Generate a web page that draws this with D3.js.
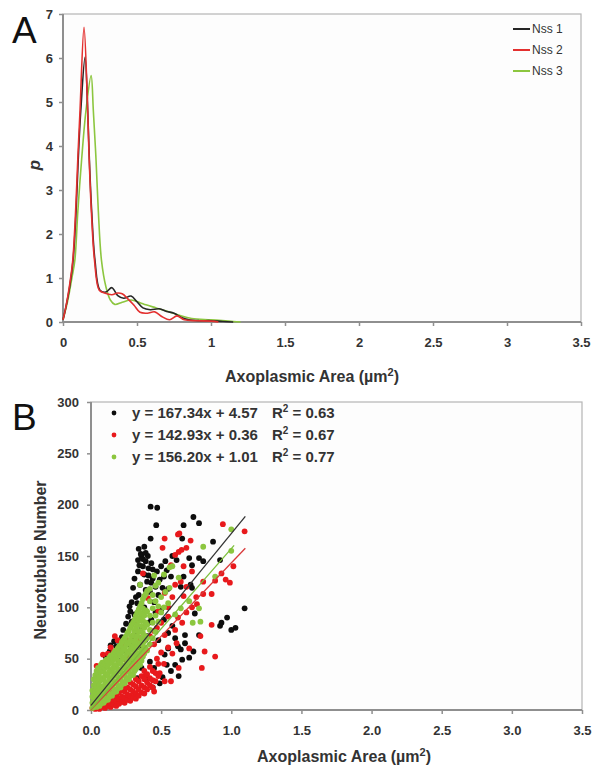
<!DOCTYPE html>
<html>
<head>
<meta charset="utf-8">
<script src="https://cdn.jsdelivr.net/npm/d3@7"></script>
<style>
  body { margin: 0; background: #fff; }
  svg { display: block; font-family: "Liberation Sans", Arial, sans-serif; }
</style>
</head>
<body>
<script>
// ---- panel A: probability density of axoplasmic area ----
const seriesNames = ["Nss 1", "Nss 2", "Nss 3"];
const lineColors = ["#262626", "#e3302f", "#8cc63f"];
const dotColors = ["#0d0d0d", "#e8191c", "#8cc63f"];
const fitColors = ["#333333", "#d9393a", "#7cbf3a"];

const densX1 = [0, 0.02, 0.045, 0.068, 0.088, 0.103, 0.12, 0.149, 0.167, 0.178, 0.194, 0.216, 0.25, 0.29, 0.33, 0.37, 0.41, 0.46, 0.5, 0.54, 0.59, 0.65, 0.7, 0.75, 0.8, 0.85, 0.92, 1.0, 1.08, 1.15];
const densP1 = [0.05, 0.35, 0.8, 1.4, 2.5, 3.7, 4.8, 6.02, 4.8, 3.7, 2.5, 1.4, 0.72, 0.68, 0.78, 0.6, 0.54, 0.59, 0.46, 0.32, 0.28, 0.3, 0.24, 0.2, 0.1, 0.05, 0.03, 0.03, 0.01, 0];

const densX2 = [0, 0.02, 0.045, 0.066, 0.085, 0.1, 0.115, 0.142, 0.165, 0.177, 0.192, 0.213, 0.245, 0.28, 0.33, 0.37, 0.4, 0.44, 0.48, 0.52, 0.57, 0.62, 0.67, 0.72, 0.77, 0.82, 0.9, 1.0, 1.05];
const densP2 = [0.05, 0.35, 0.85, 1.4, 2.5, 3.7, 4.8, 6.7, 5.0, 3.7, 2.5, 1.4, 0.72, 0.66, 0.62, 0.66, 0.64, 0.52, 0.38, 0.22, 0.2, 0.23, 0.12, 0.05, 0.14, 0.05, 0.03, 0.02, 0];

const densX3 = [0, 0.03, 0.06, 0.08, 0.1, 0.126, 0.155, 0.19, 0.205, 0.223, 0.239, 0.26, 0.29, 0.32, 0.35, 0.4, 0.46, 0.52, 0.56, 0.63, 0.7, 0.78, 0.87, 1.0, 1.12, 1.2];
const densP3 = [0.05, 0.45, 1.0, 1.4, 2.5, 3.7, 4.8, 5.6, 4.8, 3.7, 2.5, 1.4, 0.8, 0.5, 0.4, 0.45, 0.5, 0.44, 0.39, 0.32, 0.25, 0.16, 0.08, 0.05, 0.02, 0];

const xTicksA = [0, 0.5, 1, 1.5, 2, 2.5, 3, 3.5];
const yTicksA = [0, 1, 2, 3, 4, 5, 6, 7];

// ---- panel B: neurotubule number vs axoplasmic area ----
const nss1Points = [
  [0.425,198],[0.472,197],[0.465,180],[0.425,167],[0.34,157],[0.38,159],[0.335,146],[0.405,150],[0.335,135],[0.30,119],
  [0.275,101],[0.265,91],[0.31,93],[0.133,57],[0.18,54],[0.12,47],[0.36,80],[0.42,47],[0.45,41],[0.525,54],[0.49,26],[0.55,60],
  [0.73,188],[0.77,182],[0.66,180],[0.65,167],[0.87,164],[0.61,146],[0.70,148],[0.77,148],[0.80,145],[0.72,141],[0.92,146],
  [0.66,130],[0.71,122],[0.64,120],[0.72,119],[0.74,94],[1.095,99],[0.97,90],[0.93,85],[0.92,82],[1.0,78],[1.03,80],[0.67,73],
  [0.77,73],[0.67,65],[0.73,57],[0.64,59],[0.70,51],[0.60,44],[0.65,49],[0.625,33],
  [0.36,150],[0.39,145],[0.37,140],[0.41,138],[0.43,143],[0.38,132],[0.44,128],[0.47,135],[0.50,140],[0.52,130],[0.46,120],
  [0.40,125],[0.35,122],[0.42,115],[0.48,112],[0.55,118],[0.57,130],[0.53,145],[0.58,150],[0.32,110],[0.29,105],[0.31,128],
  [0.45,105],[0.38,100],[0.50,98],[0.355,152],[0.37,147],[0.39,153],[0.345,141],[0.41,131],[0.44,137],[0.49,127],[0.54,136],
  [0.33,104],[0.28,96],[0.25,84],[0.23,78],[0.29,86],[0.34,112],[0.39,117],[0.43,124],[0.51,119],
  [0.15,50],[0.18,62],[0.21,65],[0.235,58],[0.20,48],[0.255,55],[0.27,64],[0.30,71],[0.33,76],[0.28,47],[0.32,53],[0.35,61],
  [0.385,68],[0.40,72],[0.36,41],[0.405,31],[0.44,22],[0.33,31],[0.14,63],[0.165,67],[0.19,59],[0.22,71],[0.105,52],
  [0.43,88],[0.46,95],[0.41,85],[0.52,88],[0.55,75],[0.48,68],[0.58,82],[0.60,70],[0.62,62],[0.54,44],[0.57,38],[0.51,32]
];
const nss2Points = [
  [0.94,181],[1.095,174],[0.62,171],[0.71,165],[0.68,158],[0.625,154],[1.015,140],[0.96,127],[0.99,124],[0.885,126],[0.86,113],
  [0.80,113],[0.93,133],[0.86,83],[0.78,72],[0.885,52],[0.81,57],[0.79,41],[0.625,41],[0.60,78],[0.61,65],[0.70,60],[0.755,103],
  [0.66,111],[0.80,125],[0.525,167],[0.51,158],[0.57,141],[0.60,151],[0.17,72],[0.32,85],[0.45,77],[0.525,73],[0.335,54],
  [0.39,34],[0.49,36],[0.57,28],[0.525,28],[0.45,18],[0.31,13],[0.23,12],[0.085,54],[0.04,43],[0.215,64],[0.26,68],[0.45,64],
  [0.55,91],[0.48,96],[0.525,114],[0.60,122],[0.405,109],[0.37,133],[0.63,172],[0.646,156],
  [0.47,50],[0.50,56],[0.52,45],[0.55,61],[0.58,55],[0.62,90],[0.65,85],[0.68,95],[0.72,100],[0.75,110],[0.68,120],
  [0.72,135],[0.66,140],[0.64,125],[0.58,110],[0.55,100],[0.50,85],[0.47,80],[0.42,72],[0.38,60],[0.35,70],
  [0.12,55],[0.14,61],[0.16,57],[0.19,68],[0.22,61],[0.25,49],[0.28,53],[0.10,45],[0.13,49],[0.175,51],[0.2,57],[0.235,66],
  [0.01,2],[0.02,5],[0.03,1],[0.03,4],[0.05,2],[0.06,4],[0.06,1],[0.08,3],[0.08,6],[0.10,2],[0.10,5],[0.12,4],[0.12,8],
  [0.14,3],[0.14,7],[0.14,11],[0.16,5],[0.16,10],[0.18,4],[0.18,9],[0.18,14],[0.20,6],[0.20,11],[0.20,17],[0.22,8],[0.22,13],
  [0.22,19],[0.24,7],[0.24,12],[0.24,18],[0.24,23],[0.26,10],[0.26,15],[0.26,22],[0.28,9],[0.28,14],[0.28,20],[0.28,27],
  [0.30,12],[0.30,18],[0.30,25],[0.32,11],[0.32,16],[0.32,23],[0.32,30],[0.34,14],[0.34,20],[0.34,28],[0.36,17],[0.36,24],
  [0.36,33],[0.38,16],[0.38,22],[0.38,30],[0.38,38],[0.40,20],[0.40,27],[0.40,35],[0.42,24],[0.42,31],[0.42,42],[0.44,22],
  [0.44,29],[0.44,38],[0.46,28],[0.46,36],[0.48,33],[0.48,45],[0.07,9],[0.09,8],[0.11,13],[0.13,15],[0.15,17],[0.17,19]
];
const nss3Points = [
  [0.01,2],[0.01,7],[0.01,13],[0.01,19],[0.02,3],[0.02,9],[0.02,16],[0.02,24],[0.02,30],[0.03,4],[0.03,11],[0.03,18],[0.03,26],
  [0.03,34],[0.04,3],[0.04,8],[0.04,15],[0.04,22],[0.04,30],[0.04,38],[0.05,5],[0.05,12],[0.05,19],[0.05,27],[0.05,35],[0.05,41],
  [0.06,4],[0.06,10],[0.06,17],[0.06,24],[0.06,32],[0.06,40],[0.07,6],[0.07,13],[0.07,21],[0.07,29],[0.07,37],[0.07,44],
  [0.08,8],[0.08,15],[0.08,23],[0.08,31],[0.08,39],[0.08,46],[0.09,7],[0.09,14],[0.09,22],[0.09,30],[0.09,38],[0.09,44],
  [0.10,9],[0.10,17],[0.10,25],[0.10,33],[0.10,41],[0.10,47],[0.11,11],[0.11,19],[0.11,27],[0.11,35],[0.11,43],[0.11,49],
  [0.12,10],[0.12,18],[0.12,26],[0.12,34],[0.12,42],[0.12,48],[0.13,13],[0.13,21],[0.13,29],[0.13,37],[0.13,45],[0.13,51],
  [0.14,15],[0.14,23],[0.14,31],[0.14,39],[0.14,47],[0.14,53],[0.15,14],[0.15,22],[0.15,30],[0.15,38],[0.15,46],[0.15,52],
  [0.16,17],[0.16,25],[0.16,33],[0.16,41],[0.16,49],[0.16,55],[0.17,19],[0.17,27],[0.17,35],[0.17,43],[0.17,51],[0.17,57],
  [0.18,18],[0.18,26],[0.18,34],[0.18,42],[0.18,50],[0.18,58],[0.19,21],[0.19,29],[0.19,37],[0.19,45],[0.19,53],[0.19,60],
  [0.20,23],[0.20,31],[0.20,39],[0.20,47],[0.20,55],[0.20,62],[0.21,22],[0.21,30],[0.21,38],[0.21,46],[0.21,54],[0.21,63],
  [0.22,25],[0.22,33],[0.22,41],[0.22,49],[0.22,57],[0.22,66],[0.23,27],[0.23,35],[0.23,43],[0.23,51],[0.23,59],[0.23,68],
  [0.24,26],[0.24,34],[0.24,42],[0.24,51],[0.24,60],[0.24,70],[0.25,29],[0.25,37],[0.25,45],[0.25,54],[0.25,63],[0.25,72],
  [0.26,31],[0.26,39],[0.26,48],[0.26,57],[0.26,66],[0.26,75],[0.27,30],[0.27,38],[0.27,47],[0.27,56],[0.27,65],[0.27,77],
  [0.28,33],[0.28,41],[0.28,50],[0.28,59],[0.28,68],[0.28,80],[0.29,35],[0.29,44],[0.29,53],[0.29,62],[0.29,72],[0.29,83],
  [0.30,34],[0.30,43],[0.30,52],[0.30,62],[0.30,73],[0.30,85],[0.31,38],[0.31,47],[0.31,56],[0.31,66],[0.31,77],[0.31,88],
  [0.32,40],[0.32,49],[0.32,59],[0.32,69],[0.32,80],[0.32,92],[0.33,42],[0.33,52],[0.33,62],[0.33,72],[0.33,83],[0.33,95],
  [0.34,45],[0.34,55],[0.34,65],[0.34,76],[0.34,87],[0.34,98],[0.35,44],[0.35,54],[0.35,65],[0.35,77],[0.35,90],[0.35,101],
  [0.36,48],[0.36,58],[0.36,70],[0.36,82],[0.36,94],[0.36,104],[0.37,52],[0.37,63],[0.37,75],[0.37,87],[0.37,99],[0.37,108],
  [0.38,55],[0.38,67],[0.38,80],[0.38,92],[0.38,111],[0.39,60],[0.39,72],[0.39,85],[0.39,97],[0.39,113],[0.40,58],[0.40,70],
  [0.40,83],[0.40,96],[0.40,116],[0.42,64],[0.42,78],[0.42,92],[0.42,106],[0.42,118],[0.44,70],[0.44,85],[0.44,99],[0.44,112],
  [0.46,76],[0.46,92],[0.46,106],[0.46,121],[0.48,86],[0.48,101],[0.48,124],[0.50,95],[0.50,110],[0.52,100],[0.52,132],
  [0.53,115],[0.56,119],[0.56,139],[0.58,140],[0.60,93],[0.625,129],[0.64,99],[0.70,106],[0.725,85],[0.77,99],[0.78,86],
  [0.80,159],[0.885,130],[1.0,176],[1.0,155],[0.35,122],[0.45,131],[0.55,104]
];
const fitSlopes = [167.34, 142.93, 156.20];
const fitIntercepts = [4.57, 0.36, 1.01];
const fitR2 = ["0.63", "0.67", "0.77"];
const fitMaxX = [1.1, 1.1, 1.02];

const xTicksB = [0, 0.5, 1, 1.5, 2, 2.5, 3, 3.5];
const yTicksB = [0, 50, 100, 150, 200, 250, 300];

const W = 592, H = 771;
const svg = d3.select("body").append("svg").attr("width", W).attr("height", H);

const textCol = "#333";
const axisCol = "#8f8f8f";
const boxCol = "#b5b5b5";

function styleAxis(g) {
  g.select(".domain").remove();
  g.selectAll(".tick line").attr("stroke", axisCol).attr("stroke-width", 1.5);
  g.selectAll(".tick text")
    .attr("fill", textCol)
    .attr("font-size", 13)
    .attr("font-weight", "bold")
    .attr("font-family", "'Liberation Sans', Arial, sans-serif");
}

function areaTitle(x, y) {
  const t = svg.append("text")
    .attr("x", x).attr("y", y)
    .attr("text-anchor", "middle")
    .attr("font-size", 16)
    .attr("font-weight", "bold")
    .attr("fill", textCol);
  t.append("tspan").text("Axoplasmic Area (µm");
  t.append("tspan").attr("dy", -6).attr("font-size", 11).text("2");
  t.append("tspan").attr("dy", 6).text(")");
}

function frame(x0, x1, y0, y1) {
  svg.append("rect")
    .attr("x", x0).attr("y", y0)
    .attr("width", x1 - x0).attr("height", y1 - y0)
    .attr("fill", "#fdfdfd")
    .attr("stroke", boxCol)
    .attr("stroke-width", 1.2);
  // left and bottom axis lines a bit darker
  svg.append("line").attr("x1", x0).attr("x2", x0).attr("y1", y0).attr("y2", y1)
    .attr("stroke", axisCol).attr("stroke-width", 2);
  svg.append("line").attr("x1", x0).attr("x2", x1).attr("y1", y1).attr("y2", y1)
    .attr("stroke", axisCol).attr("stroke-width", 2);
}

// ================= Panel A =================
const A = {left: 63, right: 581, top: 14, bottom: 322};
const xA = d3.scaleLinear().domain([0, 3.5]).range([A.left, A.right]);
const yA = d3.scaleLinear().domain([0, 7]).range([A.bottom, A.top]);

frame(A.left, A.right, A.top, A.bottom);

svg.append("g")
  .attr("transform", "translate(0," + A.bottom + ")")
  .call(d3.axisBottom(xA).tickValues(xTicksA).tickSize(4).tickPadding(12).tickFormat(d => String(d)))
  .call(styleAxis);

svg.append("g")
  .attr("transform", "translate(" + A.left + ",0)")
  .call(d3.axisLeft(yA).tickValues(yTicksA).tickSize(4).tickPadding(6).tickFormat(d => String(d)))
  .call(styleAxis);

const densSeries = [
  densX1.map((x, i) => [x, densP1[i]]),
  densX2.map((x, i) => [x, densP2[i]]),
  densX3.map((x, i) => [x, densP3[i]])
];

const densLine = d3.line()
  .x(d => xA(d[0]))
  .y(d => yA(d[1]))
  .curve(d3.curveCatmullRom.alpha(0.5));

// green drawn first so red/black peaks sit on top like the original
[2, 0, 1].forEach(function(i) {
  svg.append("path")
    .datum(densSeries[i])
    .attr("d", densLine)
    .attr("fill", "none")
    .attr("stroke", lineColors[i])
    .attr("stroke-width", 1.6);
});

// legend A
seriesNames.forEach(function(name, i) {
  const y = 29 + i * 21;
  svg.append("line")
    .attr("x1", 513).attr("x2", 530).attr("y1", y).attr("y2", y)
    .attr("stroke", lineColors[i]).attr("stroke-width", 2);
  svg.append("text")
    .attr("x", 532).attr("y", y + 4)
    .attr("font-size", 12)
    .attr("fill", textCol)
    .text(name);
});

areaTitle(312, 382);

svg.append("text")
  .attr("transform", "translate(40,165) rotate(-90)")
  .attr("text-anchor", "middle")
  .attr("font-size", 17)
  .attr("font-weight", "bold")
  .attr("font-style", "italic")
  .attr("fill", textCol)
  .text("p");

svg.append("text")
  .attr("x", 12).attr("y", 43)
  .attr("font-size", 37)
  .attr("fill", "#111")
  .text("A");

// ================= Panel B =================
const B = {left: 91, right: 582, top: 402, bottom: 710};
const xB = d3.scaleLinear().domain([0, 3.5]).range([B.left, B.right]);
const yB = d3.scaleLinear().domain([0, 300]).range([B.bottom, B.top]);

frame(B.left, B.right, B.top, B.bottom);

svg.append("g")
  .attr("transform", "translate(0," + B.bottom + ")")
  .call(d3.axisBottom(xB).tickValues(xTicksB).tickSize(4).tickPadding(12).tickFormat(d3.format(".1f")))
  .call(styleAxis);

svg.append("g")
  .attr("transform", "translate(" + B.left + ",0)")
  .call(d3.axisLeft(yB).tickValues(yTicksB).tickSize(4).tickPadding(8))
  .call(styleAxis);

const pointSets = [nss1Points, nss2Points, nss3Points];
pointSets.forEach(function(pts, i) {
  svg.append("g")
    .selectAll("circle")
    .data(pts)
    .join("circle")
    .attr("cx", d => xB(d[0]))
    .attr("cy", d => yB(d[1]))
    .attr("r", 2.9)
    .attr("fill", dotColors[i]);
});

// linear trend lines
fitSlopes.forEach(function(m, i) {
  const b = fitIntercepts[i];
  svg.append("line")
    .attr("x1", xB(0)).attr("y1", yB(b))
    .attr("x2", xB(fitMaxX[i])).attr("y2", yB(m * fitMaxX[i] + b))
    .attr("stroke", fitColors[i])
    .attr("stroke-width", 1.3);
});

// legend B
fitSlopes.forEach(function(m, i) {
  const y = 413 + i * 22;
  svg.append("circle")
    .attr("cx", 114).attr("cy", y)
    .attr("r", 2.4)
    .attr("fill", dotColors[i]);
  svg.append("text")
    .attr("x", 132).attr("y", y + 5)
    .attr("font-size", 15)
    .attr("font-weight", "bold")
    .attr("fill", textCol)
    .text("y = " + m.toFixed(2) + "x + " + fitIntercepts[i].toFixed(2));
  const r = svg.append("text")
    .attr("x", 272).attr("y", y + 5)
    .attr("font-size", 15)
    .attr("font-weight", "bold")
    .attr("fill", textCol);
  r.append("tspan").text("R");
  r.append("tspan").attr("dy", -6).attr("font-size", 10).text("2");
  r.append("tspan").attr("dy", 6).text(" = " + fitR2[i]);
});

areaTitle(344, 762);

svg.append("text")
  .attr("transform", "translate(46,560) rotate(-90)")
  .attr("text-anchor", "middle")
  .attr("font-size", 16)
  .attr("font-weight", "bold")
  .attr("fill", textCol)
  .text("Neurotubule Number");

svg.append("text")
  .attr("x", 12).attr("y", 430)
  .attr("font-size", 37)
  .attr("fill", "#111")
  .text("B");
</script>
</body>
</html>
